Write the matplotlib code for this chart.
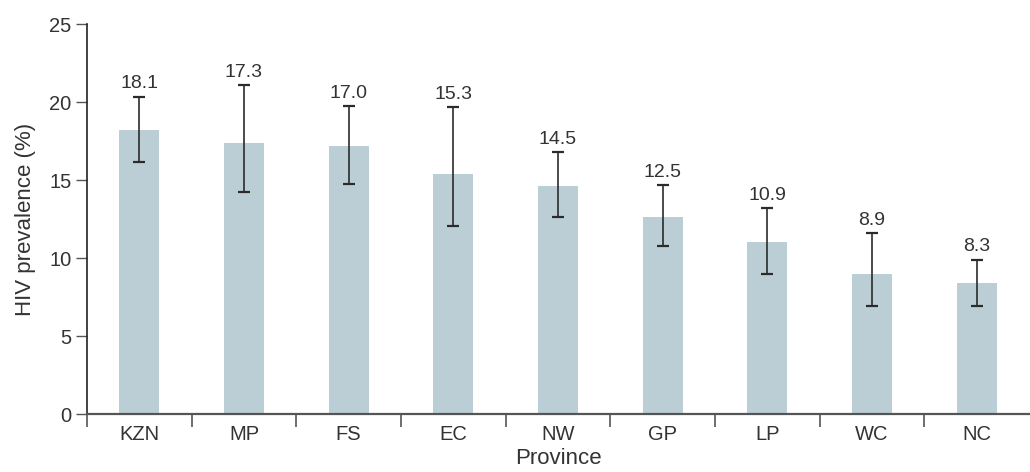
import matplotlib
matplotlib.use("Agg")
import matplotlib.pyplot as plt
import numpy as np

provinces = ["KZN", "MP", "FS", "EC", "NW", "GP", "LP", "WC", "NC"]
prevalence = [18.2, 17.4, 17.15, 15.4, 14.6, 12.65, 11.05, 9.0, 8.4]
value_labels = ["18.1", "17.3", "17.0", "15.3", "14.5", "12.5", "10.9", "8.9", "8.3"]
ci_upper = [20.35, 21.1, 19.75, 19.65, 16.8, 14.65, 13.2, 11.6, 9.9]
ci_lower = [16.15, 14.25, 14.75, 12.05, 12.6, 10.75, 9.0, 6.9, 6.95]
yticks = [0, 5, 10, 15, 20, 25]

plt.rcParams['font.family'] = ['Liberation Sans', 'DejaVu Sans']
txt = "#333333"
spine = "#555555"

fig = plt.figure(figsize=(10.3, 4.72), dpi=100)
ax = fig.add_axes([87/1030, 1-414/472, 942/1030, 390/472])

x = np.arange(len(provinces))
ax.bar(x, prevalence, width=0.38, color="#BBCED5", zorder=1)
yerr = [np.array(prevalence) - np.array(ci_lower), np.array(ci_upper) - np.array(prevalence)]
ax.errorbar(x, prevalence, yerr=yerr, fmt="none", ecolor="#2b2b2b",
            elinewidth=1.2, capsize=4.5, capthick=1.6, zorder=2)
for xi, up, lab in zip(x, ci_upper, value_labels):
    ax.annotate(lab, (xi, up), xytext=(0, 3), textcoords="offset points",
                ha="center", va="bottom", fontsize=14, color=txt)

ax.set_xlim(-0.5, len(provinces) - 0.5)
ax.set_ylim(0, 25)
ax.set_yticks(yticks)
ax.set_yticklabels([str(v) for v in yticks])
ax.set_xticks(x)
ax.set_xticklabels(provinces)
ax.set_xticks(np.arange(len(provinces)) - 0.5, minor=True)
ax.tick_params(axis="x", which="major", length=0, pad=8, labelsize=14.5, labelcolor=txt)
ax.tick_params(axis="x", which="minor", length=9, width=1.2, color=spine, direction="out")
ax.tick_params(axis="y", length=8, width=1.0, color=spine, labelsize=14.5, labelcolor=txt, pad=3)

for s in ["top", "right"]:
    ax.spines[s].set_visible(False)
ax.spines["left"].set_color("#222222")
ax.spines["left"].set_linewidth(1.2)
ax.spines["bottom"].set_color(spine)
ax.spines["bottom"].set_linewidth(1.6)

ax.set_xlabel("Province", fontsize=16, color=txt, labelpad=3)
ax.set_ylabel("HIV prevalence (%)", fontsize=16, color=txt, labelpad=10)

fig.savefig("out.png", dpi=100)
